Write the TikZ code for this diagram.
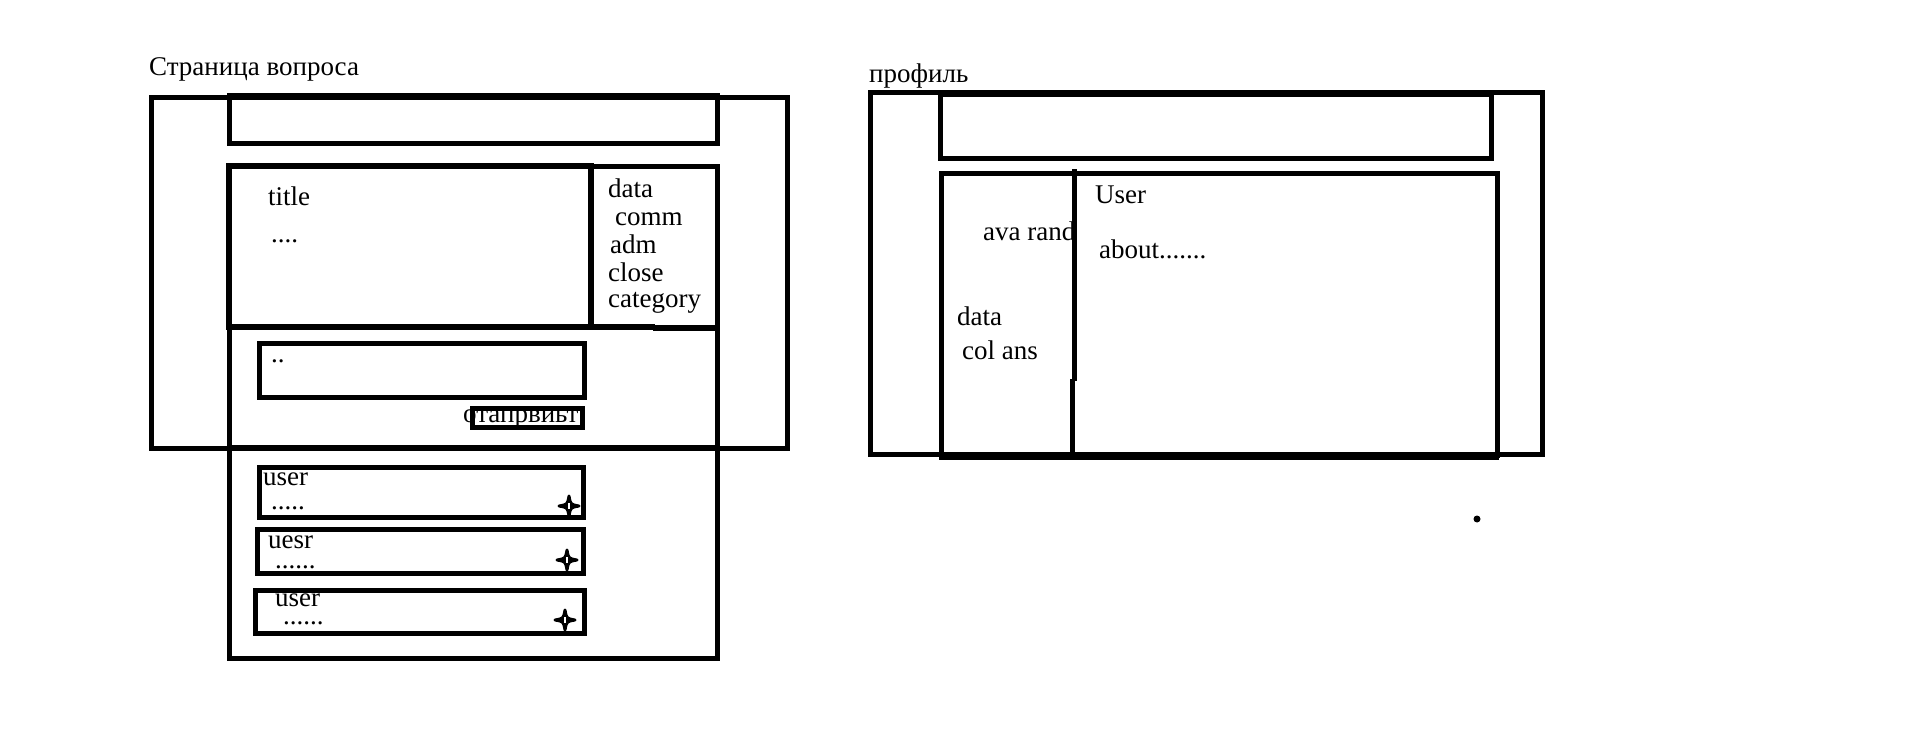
\documentclass[tikz,border=0pt]{standalone}
\usepackage{fontspec}
\setmainfont{Liberation Serif}
\begin{document}
\begin{tikzpicture}[x=1pt,y=-1pt,
  box/.style={draw=black,line width=5pt},
  thickbox/.style={draw=black,line width=6pt},
  lbl/.style={anchor=base west,inner sep=0pt,font=\fontsize{27}{32}\selectfont},
  star4/.pic={
    \filldraw[black,line width=3pt,line join=round] (0,-10) .. controls (1.5,-1.5) .. (10,0) .. controls (1.5,1.5) .. (0,10)
      .. controls (-1.5,1.5) .. (-10,0) .. controls (-1.5,-1.5) .. (0,-10) -- cycle;
    \fill[black] (0,0) circle (4.5);
    \draw[white,line width=1.2pt] (0,-3) -- (0,3);
  }]
\useasboundingbox (0,0) rectangle (1914,731);
\fill[white] (0,0) rectangle (1914,731);

% ---------- left panel texts ----------
\node[lbl] (qtitle) at (149,75) {Страница вопроса};
\node[lbl] (ttl) at (268,205) {title};
\node[lbl] (tdots) at (271,242) {....};
\node[lbl] (sdata) at (608,197) {data};
\node[lbl] (scomm) at (615,225) {comm};
\node[lbl] (sadm) at (610,253) {adm};
\node[lbl] (sclose) at (608,281) {close};
\node[lbl] (scat) at (608,307) {category};
\node[lbl] (idots) at (271,362) {..};
\node[lbl] (btn) at (463,422) {отапрвиьт};
\node[lbl] (u1) at (263,485) {user};
\node[lbl] (u1d) at (271,509) {.....};
\node[lbl] (u2) at (268,548) {uesr};
\node[lbl] (u2d) at (275,568) {......};
\node[lbl] (u3) at (275,606) {user};
\node[lbl] (u3d) at (283,624) {......};

% ---------- left panel boxes ----------
\draw[box] (151,97) rectangle (787,448);
\draw[box] (229,95) rectangle (717,143);
\draw[thickbox] (229,166) rectangle (591,327);
\draw[box] (591,166) -- (717,166) -- (717,328);
\draw[box] (591,326) -- (655,326);
\draw[box] (653,328) -- (717,328);
\draw[box] (229,327) rectangle (717,447);
\draw[box] (259,343) rectangle (584,397);
\draw[box] (472,408) rectangle (582,427);
\draw[box] (229,447) rectangle (717,658);
\draw[box] (259,467) rectangle (583,517);
\draw[box] (257,529) rectangle (583,573);
\draw[box] (255,590) rectangle (584,633);
\pic at (569,506) {star4};
\pic at (567,560) {star4};
\pic at (565,620) {star4};

% ---------- right panel texts ----------
\node[lbl] (ptitle) at (869,82) {профиль};
\node[lbl] (puser) at (1095,203) {User};
\node[lbl] (pava) at (983,240) {ava rand};
\node[lbl] (pabout) at (1099,258) {about.......};
\node[lbl] (pdata) at (957,325) {data};
\node[lbl] (pcol) at (962,359) {col ans};

% ---------- right panel boxes ----------
\draw[box] (870,92) rectangle (1542,454);
\draw[box] (940,94) rectangle (1491,158);
\draw[box] (941,173) rectangle (1497,455);
\draw[black,line width=8pt] (939,456) -- (1499,456);
\draw[box] (1074,169) -- (1074,381);
\draw[box] (1072,379) -- (1072,455);
\fill[black] (1477,519) circle (3.5);
\end{tikzpicture}
\end{document}
